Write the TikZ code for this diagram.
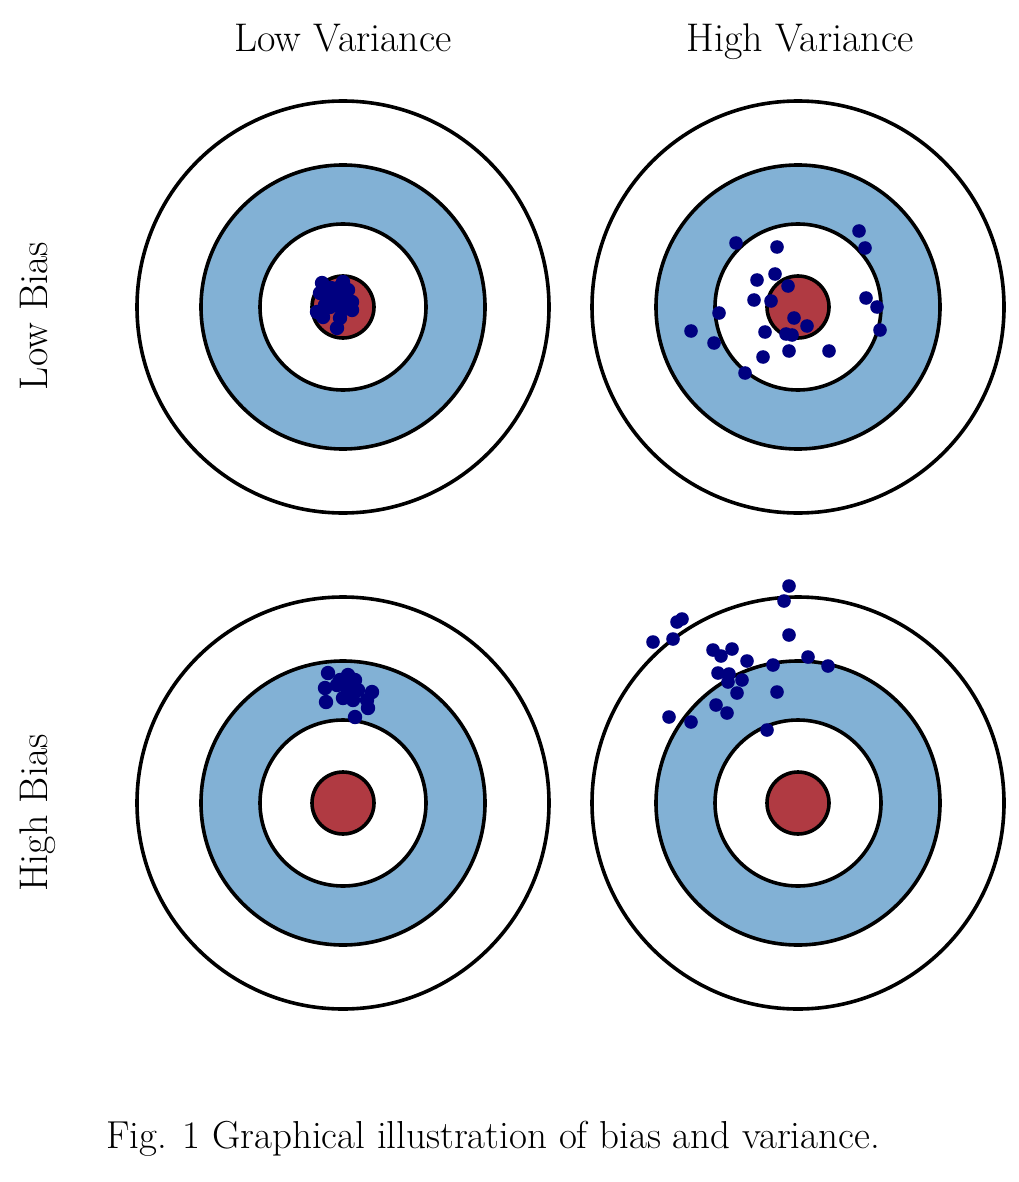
\documentclass[tikz,border=0pt]{standalone}
\definecolor{ringblue}{RGB}{130,177,213}
\definecolor{bullred}{RGB}{176,58,66}
\definecolor{dotblue}{RGB}{0,0,128}
\begin{document}
\begin{tikzpicture}[x=1pt,y=-1pt,
  ring/.style={draw=black,line width=3.6pt},
  shot/.style={fill=dotblue},
  lbl/.style={font=\fontsize{40}{44}\selectfont,inner sep=0pt,anchor=base},
  captxt/.style={font=\fontsize{39}{44}\selectfont,inner sep=0pt,anchor=base}]
\useasboundingbox (0,0) rectangle (1018,1182);
% targets
\foreach \cx/\cy in {343/307,798/307,343/803,798/803}{
  \filldraw[ring,fill=white] (\cx,\cy) circle (206);
  \filldraw[ring,fill=ringblue] (\cx,\cy) circle (142);
  \filldraw[ring,fill=white] (\cx,\cy) circle (83);
  \filldraw[ring,fill=bullred] (\cx,\cy) circle (31);
}
% low bias, low variance
\foreach \x/\y in {322/283,343/282,320/293,327/297,340/295,352/302,317/312,330/307,342/310,352/310,323/317,340/318,337/328,331/288,348/290,335/301,345/304,325/305,330/296,338/288}{
  \fill[shot] (\x,\y) circle (7.2);
}
% low bias, high variance
\foreach \x/\y in {736/243,777/247,859/231,865/248,775/274,757/280,788/286,754/300,771/301,866/298,877/307,719/313,794/318,807/326,691/331,880/330,765/332,786/334,792/335,714/343,789/351,829/351,763/357,745/373}{
  \fill[shot] (\x,\y) circle (6.8);
}
% high bias, low variance
\foreach \x/\y in {328/673,348/675,355/680,325/688,337/685,347/687,358/690,372/692,343/698,353/700,367/700,326/702,368/708,355/717,340/680,350/693}{
  \fill[shot] (\x,\y) circle (7.2);
}
% high bias, high variance
\foreach \x/\y in {789/586,784/601,682/619,677/622,653/642,673/639,789/635,713/650,732/649,721/656,747/661,808/657,828/666,773/665,718/673,729/674,728/682,742/680,737/693,777/692,716/705,727/713,669/717,691/722,767/730}{
  \fill[shot] (\x,\y) circle (6.8);
}
% labels
\node[lbl] (lv) at (343,52) {Low Variance};
\node[lbl] (hv) at (800,52) {High Variance};
\node[lbl,rotate=90] (lb) at (47,316) {Low Bias};
\node[lbl,rotate=90] (hb) at (47,813) {High Bias};
\node[captxt] (caption) at (493,1148) {Fig. 1 Graphical illustration of bias and variance.};
\end{tikzpicture}
\end{document}
